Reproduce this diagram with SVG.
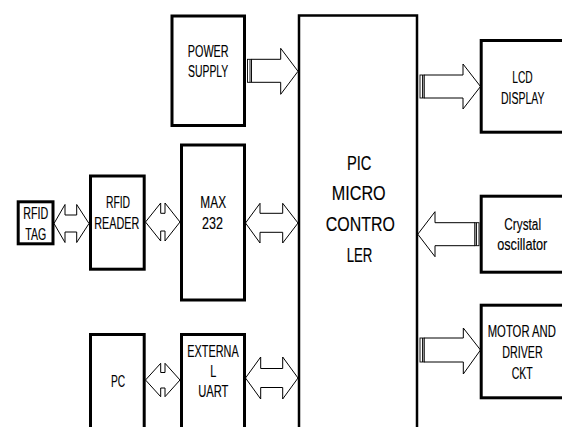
<svg xmlns="http://www.w3.org/2000/svg" width="562" height="427" viewBox="0 0 562 427">
<style>
.box{fill:#fff;stroke:#000;stroke-width:3}
.pic{fill:#fff;stroke:#000;stroke-width:2.5}
.arr{fill:#fff;stroke:#000;stroke-width:1;stroke-linejoin:miter}
.st{fill:#fff;stroke:#000;stroke-width:0.9}
.t{font-family:"Liberation Sans",Arial,sans-serif;font-size:16.5px;fill:#000;text-anchor:middle;stroke:#000;stroke-width:0.15}
.tb{font-family:"Liberation Sans",Arial,sans-serif;font-size:21px;fill:#000;text-anchor:middle;stroke:#000;stroke-width:0.15}
</style>
<rect width="562" height="427" fill="#fff"/>
<g id="connectors">
  <!-- power -> PIC -->
  <polygon class="arr" points="251.5,59.3 280.7,59.3 280.7,48.3 298,71.3 280.7,94.3 280.7,82.3 251.5,82.3"/>
  <rect class="st" x="247.5" y="59.3" width="4" height="23"/>
  <line class="st" x1="250" y1="59.3" x2="250" y2="82.3"/>
  <!-- PIC -> LCD -->
  <polygon class="arr" points="424,75 463,75 463,64 480.5,86.5 463,109 463,98 424,98"/>
  <rect class="st" x="420" y="75" width="4" height="23"/>
  <line class="st" x1="422.5" y1="75" x2="422.5" y2="98"/>
  <!-- crystal -> PIC -->
  <polygon class="arr" points="475,222.7 435,222.7 435,211.7 417.8,234.2 435,256.7 435,245.7 475,245.7"/>
  <rect class="st" x="475" y="222.7" width="4" height="23"/>
  <line class="st" x1="476.5" y1="222.7" x2="476.5" y2="245.7"/>
  <!-- PIC -> motor -->
  <polygon class="arr" points="424,338 463.3,338 463.3,328 480.5,350 463.3,374 463.3,362 424,362"/>
  <rect class="st" x="420" y="338" width="4" height="24"/>
  <line class="st" x1="422.5" y1="338" x2="422.5" y2="362"/>
  <!-- TAG <-> READER -->
  <polygon class="arr" points="54,223.5 65,204.5 65,215 76.7,215 76.7,204.5 89,223.5 76.7,242.5 76.7,232 65,232 65,242.5"/>
  <!-- READER <-> MAX -->
  <polygon class="arr" points="145.5,222 160.7,203 160.7,213.3 165,213.3 165,203 180,222 165,241 165,231 160.7,231 160.7,241"/>
  <!-- MAX <-> PIC -->
  <polygon class="arr" points="245.5,223 260,203.3 260,213.3 282.7,213.3 282.7,203.3 298,223 282.7,243 282.7,232.3 260,232.3 260,243"/>
  <!-- PC <-> UART -->
  <polygon class="arr" points="145.5,380 160.7,363.3 160.7,372.5 165,372.5 165,363.3 180,380 165,396.7 165,388 160.7,388 160.7,396.7"/>
  <!-- UART <-> PIC -->
  <polygon class="arr" points="245.5,378 260.7,357 260.7,368.5 282.7,368.5 282.7,357 298,378 282.7,399 282.7,387.5 260.7,387.5 260.7,399"/>
</g>
<g id="power">
  <rect class="box" x="172" y="16" width="72.5" height="109.5"/>
  <text class="t" transform="matrix(0.658 0 0 1 208.2 0)" x="0" y="57">POWER</text>
  <text class="t" transform="matrix(0.63 0 0 1 208.2 0)" x="0" y="77">SUPPLY</text>
</g>
<g id="max232">
  <rect class="box" x="181.5" y="145" width="63" height="155"/>
  <text class="t" transform="matrix(0.72 0 0 1 213.2 0)" x="0" y="208.3">MAX</text>
  <text class="t" transform="matrix(0.76 0 0 1 212.5 0)" x="0" y="229.3">232</text>
</g>
<g id="rfid-reader">
  <rect class="box" x="90.5" y="176" width="53.7" height="93.2"/>
  <text class="t" transform="matrix(0.63 0 0 1 118 0)" x="0" y="208.3">RFID</text>
  <text class="t" transform="matrix(0.654 0 0 1 116.8 0)" x="0" y="229.3">READER</text>
</g>
<g id="rfid-tag">
  <rect class="box" x="18.2" y="201.8" width="34.8" height="42"/>
  <text class="t" transform="matrix(0.65 0 0 1 35.8 0)" x="0" y="219.3">RFID</text>
  <text class="t" transform="matrix(0.64 0 0 1 35.8 0)" x="0" y="240">TAG</text>
</g>
<g id="pc">
  <rect class="box" x="90.5" y="334.5" width="53.7" height="100"/>
  <text class="t" transform="matrix(0.62 0 0 1 118 0)" x="0" y="387.3">PC</text>
</g>
<g id="uart">
  <rect class="box" x="181.5" y="334.5" width="63" height="100"/>
  <text class="t" transform="matrix(0.66 0 0 1 213 0)" x="0" y="356.7">EXTERNA</text>
  <text class="t" transform="matrix(0.66 0 0 1 213.3 0)" x="0" y="377">L</text>
  <text class="t" transform="matrix(0.68 0 0 1 213.3 0)" x="0" y="397.3">UART</text>
</g>
<g id="pic">
  <rect class="pic" x="299" y="15.5" width="118" height="420"/>
  <text class="tb" transform="matrix(0.7 0 0 1 359.2 0)" x="0" y="170">PIC</text>
  <text class="tb" transform="matrix(0.77 0 0 1 358.7 0)" x="0" y="200">MICRO</text>
  <text class="tb" transform="matrix(0.76 0 0 1 360.3 0)" x="0" y="230.7">CONTRO</text>
  <text class="tb" transform="matrix(0.63 0 0 1 359.5 0)" x="0" y="262.3">LER</text>
</g>
<g id="lcd">
  <rect class="box" x="481.2" y="40.5" width="84" height="91.7"/>
  <text class="t" transform="matrix(0.62 0 0 1 522.5 0)" x="0" y="83.3">LCD</text>
  <text class="t" transform="matrix(0.636 0 0 1 522.8 0)" x="0" y="104">DISPLAY</text>
</g>
<g id="crystal">
  <rect class="box" x="481.2" y="196.2" width="84" height="76"/>
  <text class="t" transform="matrix(0.715 0 0 1 522.7 0)" x="0" y="230">Crystal</text>
  <text class="t" transform="matrix(0.77 0 0 1 522.2 0)" x="0" y="250">oscillator</text>
</g>
<g id="motor">
  <rect class="box" x="481.2" y="305.2" width="84" height="92.6"/>
  <text class="t" transform="matrix(0.685 0 0 1 521.8 0)" x="0" y="337.3">MOTOR AND</text>
  <text class="t" transform="matrix(0.65 0 0 1 522.5 0)" x="0" y="358.3">DRIVER</text>
  <text class="t" transform="matrix(0.64 0 0 1 522.2 0)" x="0" y="379">CKT</text>
</g>
</svg>
